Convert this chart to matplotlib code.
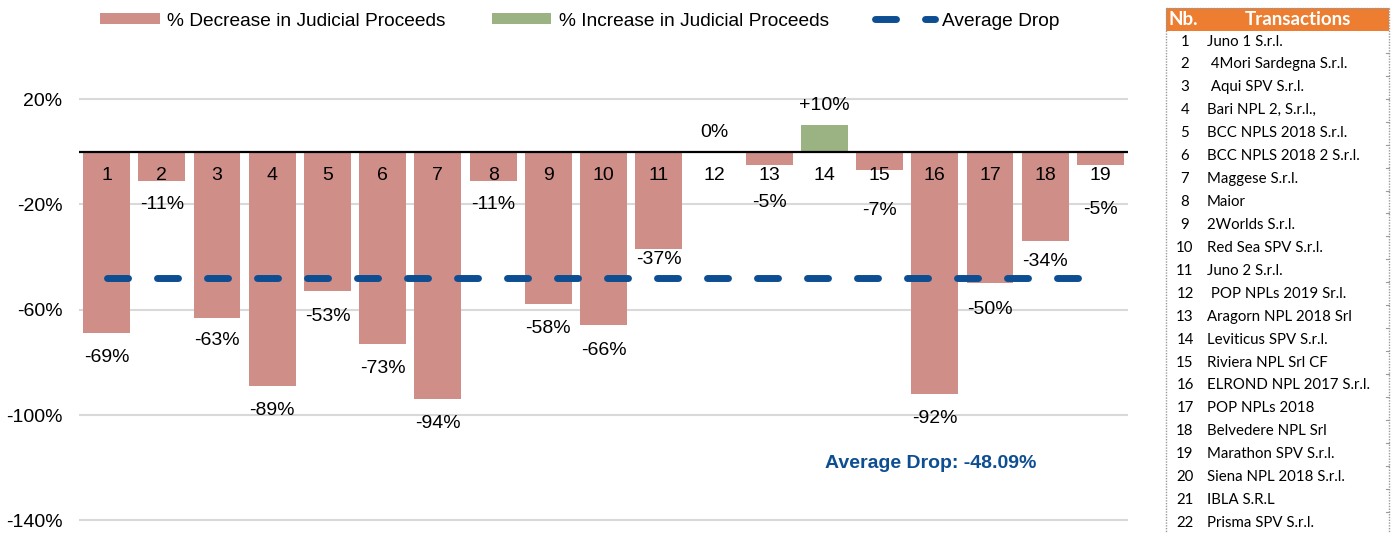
import matplotlib
matplotlib.use("Agg")
import matplotlib.pyplot as plt
from matplotlib.patches import Rectangle, Patch
from matplotlib.lines import Line2D

# ---------------- data ----------------
categories = [str(i) for i in range(1, 20)]
values = [-69, -11, -63, -89, -53, -73, -94, -11, -58, -66, -37, 0, -5, 10, -7, -92, -50, -34, -5]
value_labels = ["-69%", "-11%", "-63%", "-89%", "-53%", "-73%", "-94%", "-11%", "-58%", "-66%",
                "-37%", "0%", "-5%", "+10%", "-7%", "-92%", "-50%", "-34%", "-5%"]
average_drop = -48.09
y_ticks = [20, -20, -60, -100, -140]
y_tick_labels = ["20%", "-20%", "-60%", "-100%", "-140%"]
table_numbers = [str(i) for i in range(1, 23)]
table_names = ["Juno 1 S.r.l.", " 4Mori Sardegna S.r.l.", " Aqui SPV S.r.l.", "Bari NPL 2, S.r.l.,",
               "BCC NPLS 2018 S.r.l.", "BCC NPLS 2018 2 S.r.l.", "Maggese S.r.l.", "Maior",
               "2Worlds S.r.l.", "Red Sea SPV S.r.l.", "Juno 2 S.r.l.", " POP NPLs 2019 Sr.l.",
               "Aragorn NPL 2018 Srl", "Leviticus SPV S.r.l.", "Riviera NPL Srl CF",
               "ELROND NPL 2017 S.r.l.", "POP NPLs 2018", "Belvedere NPL Srl", "Marathon SPV S.r.l.",
               "Siena NPL 2018 S.r.l.", "IBLA S.R.L", "Prisma SPV S.r.l."]

# label offsets in pixels (positive = below the bar end)
label_offsets_px = [24, 24, 23, 24, 25, 25, 24, 24, 24, 25, 10, -19, 38, -20, 40, 25, 26, 20, 45]

# ---------------- style ----------------
RED = "#CF8E88"
GREEN = "#9BB383"
BLUE = "#0D4E92"
GRID = "#D9D9D9"
FONT = "Liberation Sans"
plt.rcParams["font.family"] = [FONT, "DejaVu Sans"]

W, H, DPI = 1392, 533, 100
fig = plt.figure(figsize=(W / DPI, H / DPI), dpi=DPI)

px_per_unit = 2.633
zero_px = 151.7
ymax, ymin = 21, -141
top_px = zero_px - ymax * px_per_unit
bot_px = zero_px - ymin * px_per_unit
ax_left, ax_right = 79, 1128
ax = fig.add_axes([ax_left / W, 1 - bot_px / H, (ax_right - ax_left) / W, (bot_px - top_px) / H])

x = list(range(len(categories)))
colors = [GREEN if v > 0 else RED for v in values]
ax.bar(x, values, width=0.85, color=colors, edgecolor="none", zorder=2)

ax.set_xlim(-0.5, len(categories) - 0.5)
ax.set_ylim(ymin, ymax)
ax.set_yticks(y_ticks)
ax.set_yticklabels(y_tick_labels, fontsize=14)
ax.tick_params(axis="y", length=0, pad=12)
ax.set_xticks([])
for s in ax.spines.values():
    s.set_visible(False)
ax.yaxis.grid(True, color=GRID, lw=1.5, zorder=0)
ax.set_axisbelow(True)
ax.axhline(0, color="black", lw=1.6, zorder=3)

# category numbers inside bars
for xi, c in zip(x, categories):
    ax.text(xi, -8.85, c, ha="center", va="center", fontsize=14, zorder=4)

# value labels
for xi, v, lab, off in zip(x, values, value_labels, label_offsets_px):
    ax.annotate(lab, (xi, v), xytext=(0, -off * 72 / DPI), textcoords="offset points",
                ha="center", va="center", fontsize=14, zorder=4)

# average line
lw = 5
dash = (21 * 0.72 / lw, 29 * 0.72 / lw)
ax.plot([x[0], x[-1]], [average_drop, average_drop], color=BLUE, lw=lw,
        dashes=dash, dash_capstyle="round", zorder=3)

fig.text(931 / W, 1 - 464 / H, "Average Drop: -48.09%", fontsize=14, fontweight="bold",
         color=BLUE, ha="center", va="center")

# legend
handles = [Patch(facecolor=RED, edgecolor="none"), Patch(facecolor=GREEN, edgecolor="none"),
           Line2D([], [], color=BLUE, lw=lw, dashes=dash, dash_capstyle="round")]
leg = fig.legend(handles, ["% Decrease in Judicial Proceeds", "% Increase in Judicial Proceeds", "Average Drop"],
                 loc="center", bbox_to_anchor=(580 / W, 1 - 21 / H), ncol=3, frameon=False,
                 fontsize=13.8, handlelength=3.1, handleheight=0.55, handletextpad=0.4,
                 columnspacing=2.4, borderaxespad=0)

# ---------------- table ----------------
tx0, tx1 = 1166, 1389
ty0 = 8
row_h = 22.93
hdr_h = 23
row1_y = 41.5

def fx(p):
    return p / W

def fy(p):
    return 1 - p / H

fig.patches.append(Rectangle((fx(tx0), fy(ty0 + hdr_h)), fx(tx1 - tx0), hdr_h / H,
                             transform=fig.transFigure, facecolor="#ED7D31", edgecolor="none"))
# dotted border
for xs, ys in [([tx0, tx0], [ty0, H]), ([tx1, tx1], [ty0, H]), ([tx0, tx1], [ty0, ty0])]:
    fig.add_artist(Line2D([fx(v) for v in xs], [fy(v) for v in ys], transform=fig.transFigure,
                          color="#9A9A9A", lw=1, ls=(0, (1, 1))))

TF = ["Lato", "DejaVu Sans"]
fig.text(fx(1169), fy(ty0 + hdr_h / 2), "Nb.", family=TF, fontsize=13.5, fontweight="bold",
         color="white", ha="left", va="center")
fig.text(fx(1298), fy(ty0 + hdr_h / 2), "Transactions", family=TF, fontsize=13.5, fontweight="bold",
         color="white", ha="center", va="center")
for i, (n, name) in enumerate(zip(table_numbers, table_names)):
    yc = row1_y + i * row_h
    fig.text(fx(1185), fy(yc), n, family=TF, fontsize=10.8, ha="center", va="center")
    fig.text(fx(1207), fy(yc), name, family=TF, fontsize=10.8, ha="left", va="center")
    fig.add_artist(Line2D([fx(tx1 - 3), fx(tx1)], [fy(yc + row_h / 2), fy(yc + row_h / 2)],
                          transform=fig.transFigure, color="#9A9A9A", lw=0.8))

fig.savefig("out.png", dpi=DPI)
